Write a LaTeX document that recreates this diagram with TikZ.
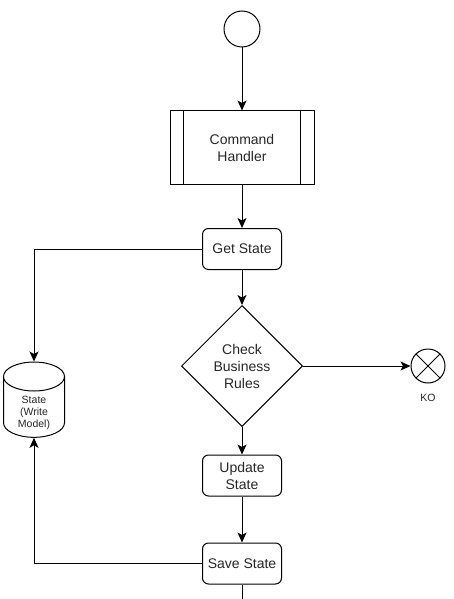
\documentclass[tikz,border=0pt]{standalone}
\usepackage{fontspec}
\setmainfont{Liberation Sans}
\usetikzlibrary{positioning,arrows.meta,shapes.geometric,shapes.misc}

\begin{document}
\begin{tikzpicture}[
  x=1pt, y=-1pt,
  line width=1pt,
  every node/.style={font=\fontsize{14}{17}\selectfont, text=black!85},
  stepbox/.style={
    draw=black, rounded corners=6pt,
    minimum width=79pt, minimum height=41pt,
    align=center, inner sep=2pt
  },
  procbox/.style={draw=black, minimum width=144pt, minimum height=73pt, align=center},
  decision/.style={draw=black, diamond, aspect=1, minimum width=121pt, minimum height=121pt,
    inner sep=1pt, align=center},
  store/.style={draw=black, cylinder, shape border rotate=90, aspect=0.85,
    minimum width=61pt, minimum height=72pt, inner sep=1pt},
  small/.style={font=\fontsize{10.5}{12}\selectfont},
  terminal/.style={draw=black, circle, minimum size=36pt, inner sep=0pt},
  arr/.style={-{Stealth[length=10pt,width=9pt,inset=2.5pt]}}
]
  \useasboundingbox (0,0) rectangle (454,599);

  % Main flow
  \node[terminal] (start) at (242,29) {};
  \node[procbox] (cmd) at (242,147.5) {Command\\Handler};
  \node[stepbox] (get) at (242,249) {Get State};
  \node[decision] (check) at (242,366) {Check\\Business\\Rules};
  \node[stepbox] (upd) at (242,475.5) {Update\\State};
  \node[stepbox] (save) at (242,563.5) {Save State};
  \coordinate (end) at (242,599);

  % Side nodes
  \node[store, small] (db) at (34,409) {\phantom{\shortstack{State\\(Write\\Model)}}};
  \node[small, align=center] (dbtext) at (34,413) {State\\(Write\\Model)};
  \node[terminal, minimum size=34pt,
        label={[small, label distance=7pt]below:KO}] (ko) at (428,366) {};
  \draw (ko.north west) -- (ko.south east);
  \draw (ko.north east) -- (ko.south west);

  % Process bars
  \draw ([xshift=14pt]cmd.north west) -- ([xshift=14pt]cmd.south west);
  \draw ([xshift=-14pt]cmd.north east) -- ([xshift=-14pt]cmd.south east);

  % Arrows
  \draw[arr] (start) -- (cmd);
  \draw[arr] (cmd) -- (get);
  \draw[arr] (get) -- (check);
  \draw[arr] (check) -- (upd);
  \draw[arr] (upd) -- (save);
  \draw (save) -- (end);
  \draw[arr] (check.east) -- (ko.west);
  \draw[arr] (get.west) -| (db.north);
  \draw[arr] (save.west) -| (db.south);
\end{tikzpicture}
\end{document}
